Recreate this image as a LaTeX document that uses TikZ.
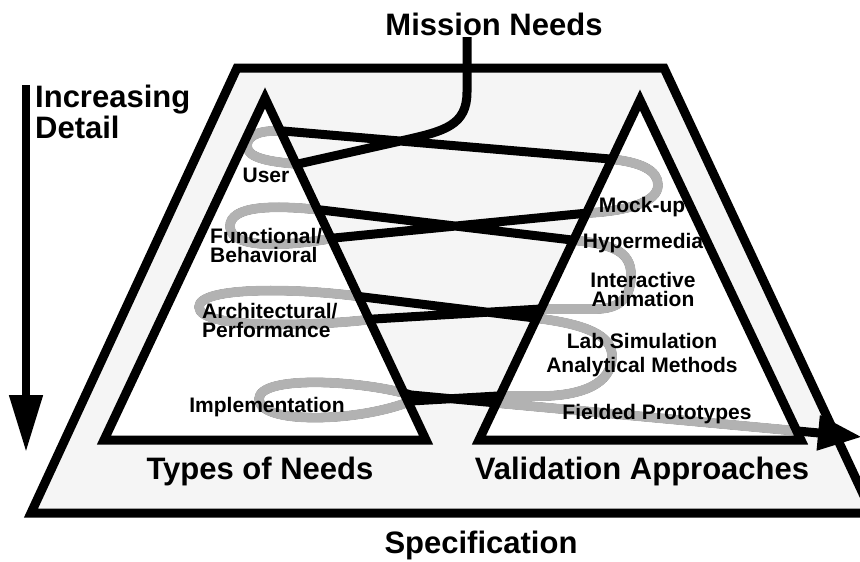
\documentclass[tikz,border=0pt]{standalone}
\usepackage{fontspec}
\setmainfont{Liberation Sans}
\usetikzlibrary{arrows.meta}

\definecolor{panelgray}{gray}{0.96}
\definecolor{trailgray}{gray}{0.70}

\newcommand{\snakepath}{(start) -- (467,92)
  .. controls (467,125) and (445,131) .. (405,140)
  -- (298,164)
  .. controls (270,162) and (247,158) .. (247,146)
  .. controls (247,133) and (265,130) .. (283,131)
  -- (610,159)
  .. controls (640,162) and (658,170) .. (658,185)
  .. controls (658,203) and (625,211) .. (588,213)
  -- (334,238)
  .. controls (290,246) and (231,250) .. (230,227)
  .. controls (229,205) and (275,205) .. (321,210)
  -- (572,240)
  .. controls (610,244) and (631,250) .. (631,275)
  .. controls (631,302) and (615,309) .. (595,309)
  -- (541,309)
  -- (374,319)
  .. controls (320,326) and (199,330) .. (199,307)
  .. controls (199,286) and (300,288) .. (363,297)
  -- (535,318)
  .. controls (585,324) and (612,335) .. (612,356)
  .. controls (612,385) and (580,395) .. (545,396)
  -- (498,396)
  -- (411,401)
  .. controls (360,422) and (259,425) .. (259,399)
  .. controls (259,375) and (360,380) .. (411,395)
  -- (tip)}

\begin{document}
\begin{tikzpicture}[x=1pt,y=-1pt,
    big/.style={font=\fontsize{31}{31}\selectfont\bfseries},
    small/.style={font=\fontsize{21}{19}\selectfont\bfseries},
    heavy/.style={line width=9pt,line join=miter}]

  \useasboundingbox (0,0) rectangle (860,562);

  \coordinate (start) at (467,37);
  \coordinate (tip) at (862,437);
  \coordinate (down1) at (26,85);
  \coordinate (down2) at (26,452);

  \filldraw[heavy,fill=panelgray] (237,68) -- (664,68) -- (872,513) -- (31,513) -- cycle;

  \fill[white] (265,98) -- (426,440) -- (104,440) -- cycle;
  \fill[white] (640,100) -- (801,440) -- (479,440) -- cycle;

  \draw[line width=9pt,line join=round,-{Triangle[length=44pt,width=33pt]}] \snakepath;

  \begin{scope}
    \clip (265,98) -- (426,440) -- (104,440) -- cycle
          (640,100) -- (801,440) -- (479,440) -- cycle;
    \draw[trailgray,line width=9.6pt,line join=round] \snakepath;
  \end{scope}

  \draw[heavy] (265,98) -- (426,440) -- (104,440) -- cycle;
  \draw[heavy] (640,100) -- (801,440) -- (479,440) -- cycle;

  \draw[line width=8pt,-{Triangle[length=57pt,width=32pt]}] (down1) -- (down2);

  \begin{scope}[every node/.style={big,inner sep=0pt}]
    \node[anchor=base] (mission) at (494,35) {Mission Needs};
    \node[anchor=north west,align=left] (detail) at (35,85) {Increasing\\Detail};
    \node[anchor=base] (types) at (260,479) {Types of Needs};
    \node[anchor=base] (valid) at (642,479) {Validation Approaches};
    \node[anchor=base] (spec) at (481,553) {Specification};
  \end{scope}

  \begin{scope}[every node/.style={small,inner sep=0pt}]
    \node[anchor=base] (user) at (266,182) {User};
    \node[anchor=north west,align=left] (func) at (210,228) {Functional/\\Behavioral};
    \node[anchor=north west,align=left] (arch) at (202,303) {Architectural/\\Performance};
    \node[anchor=base] (impl) at (267,412) {Implementation};
    \node[anchor=base] (mock) at (642,212) {Mock-up};
    \node[anchor=base] (hyper) at (643,248) {Hypermedia};
    \node[anchor=north,align=center] (anim) at (643,272) {Interactive\\Animation};
    \node[anchor=north,align=center] (lab) at (642,333) {Lab Simulation\\[5pt]Analytical Methods};
    \node[anchor=base] (field) at (657,419) {Fielded Prototypes};
  \end{scope}

\end{tikzpicture}
\end{document}
